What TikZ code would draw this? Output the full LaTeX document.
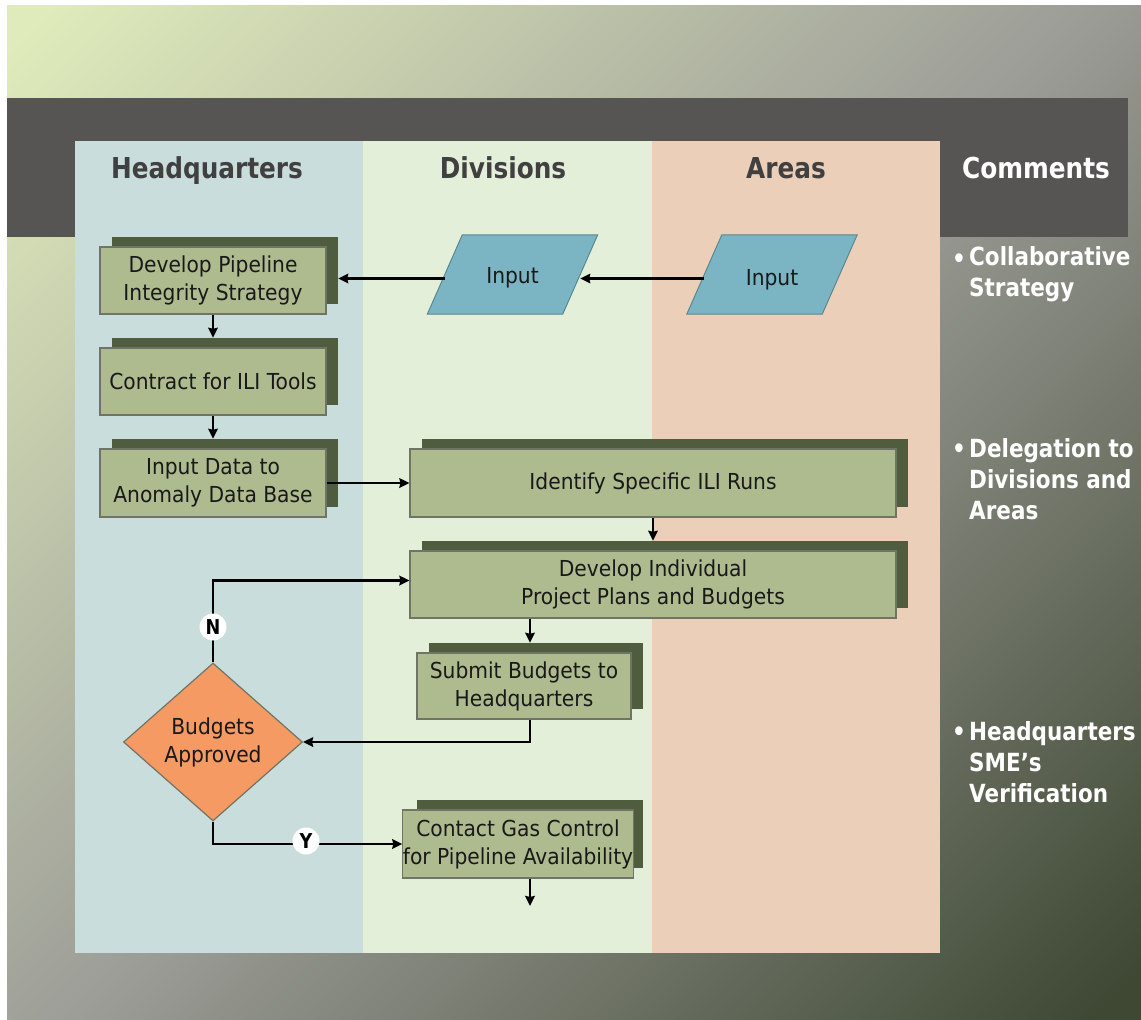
\documentclass[tikz,border=0pt]{standalone}
\usepackage{fontspec}
\setmainfont{DejaVu Sans}[FakeStretch=0.92]
\newfontfamily\narrowbf{DejaVu Sans Bold}[FakeStretch=0.86]
\usetikzlibrary{arrows.meta,shapes.geometric,calc}

\definecolor{bgA}{HTML}{DFEBBB}
\definecolor{bgM}{HTML}{9D9E98}
\definecolor{bgC}{HTML}{3E4833}
\definecolor{bandc}{HTML}{575553}
\definecolor{hqlane}{HTML}{C9DEDC}
\definecolor{divlane}{HTML}{E3EFD9}
\definecolor{arealane}{HTML}{EBCFB9}
\definecolor{boxfill}{HTML}{ADBB8F}
\definecolor{boxshadow}{HTML}{4F5C3D}
\definecolor{boxline}{HTML}{6F7465}
\definecolor{parafill}{HTML}{7BB5C3}
\definecolor{paraline}{HTML}{5A8890}
\definecolor{diafill}{HTML}{F59A62}
\definecolor{hdrc}{HTML}{404040}

\pgfdeclarehorizontalshading{bgshade}{100bp}{color(0bp)=(bgA); color(16bp)=(bgA); color(50bp)=(bgM); color(84bp)=(bgC); color(100bp)=(bgC)}

\newcommand{\procbox}[6]{%
  \node[shbox, minimum width=#4pt, minimum height=#5pt] (#1s) at (#2+12,#3-10) {};
  \node[proc, minimum width=#4pt, minimum height=#5pt] (#1) at (#2,#3) {#6};}

\begin{document}
\begin{tikzpicture}[x=1pt,y=-1pt,
  proc/.style={draw=boxline, line width=1.2pt, fill=boxfill, align=center,
    font=\fontsize{22}{28}\selectfont, text=black!90, inner sep=0pt},
  shbox/.style={fill=boxshadow, draw=none, inner sep=0pt},
  hdr/.style={font=\narrowbf\fontsize{28.8}{32}\selectfont, text=hdrc, anchor=base, inner sep=0pt},
  cmt/.style={font=\narrowbf\fontsize{25}{31}\selectfont, text=white, align=left, inner sep=0pt},
  paranode/.style={minimum width=135pt, minimum height=79pt, inner sep=0pt},
  ptext/.style={font=\fontsize{22}{28}\selectfont, text=black!90, inner sep=0pt},
  arr/.style={line width=2.4pt, -{Stealth[length=10pt,width=9.5pt,inset=1pt]}},
  ynlab/.style={circle, fill=white, draw=none, inner sep=0pt, minimum size=27pt,
    font=\narrowbf\fontsize{20.5}{20.5}\selectfont}]
\useasboundingbox (0,0) rectangle (1141,1020);
\fill[white] (0,0) rectangle (1141,1020);
\shade[shading=bgshade, shading angle=-45] (7,5) rectangle (1141,1020);
\fill[bandc] (7,98) rectangle (1128,237);

% lanes
\fill[hqlane] (75,141) rectangle (363,953);
\fill[divlane] (363,141) rectangle (652,953);
\fill[arealane] (652,141) rectangle (940,953);

% headers
\node[hdr] (hhq) at (207,178) {Headquarters};
\node[hdr] (hdiv) at (503,178) {Divisions};
\node[hdr] (hare) at (786,178) {Areas};
\node[hdr, text=white] (hcom) at (1036,178) {Comments};

% comments
\node[cmt, anchor=base] (c1b) at (959,267) {\textbullet};
\node[cmt, anchor=north west] (c1) at (969,246) {Collaborative\\Strategy};
\node[cmt, anchor=base] (c2b) at (959,457) {\textbullet};
\node[cmt, anchor=north west] (c2) at (969,438) {Delegation to\\Divisions and\\Areas};
\node[cmt, anchor=base] (c3b) at (959,740) {\textbullet};
\node[cmt, anchor=north west] (c3) at (969,721) {Headquarters\\SME’s\\Verification};

% process boxes
\procbox{b1}{213}{280.5}{226}{67}{Develop Pipeline\\Integrity Strategy}
\procbox{b2}{213}{381.5}{226}{67}{Contract for ILI Tools}
\procbox{b3}{213}{483}{226}{68}{Input Data to\\Anomaly Data Base}
\procbox{b4}{653}{483}{486}{68}{Identify Specific ILI Runs}
\procbox{b5}{653}{584.5}{486}{67}{Develop Individual\\Project Plans and Budgets}
\procbox{b6}{524}{686}{214}{66}{Submit Budgets to\\Headquarters}
\procbox{b7}{518}{844}{226}{68}{Contact Gas Control\\for Pipeline Availability}

% input parallelograms
\node[paranode] (din) at (512.5,274.5) {};
\filldraw[fill=parafill, draw=paraline, line width=1pt]
  ([xshift=-17.5pt]din.south west) -- ([xshift=-17.5pt]din.south east)
  -- ([xshift=17.5pt]din.north east) -- ([xshift=17.5pt]din.north west) -- cycle;
\node[ptext] (dintext) at ([yshift=-3pt]din.center) {Input};
\node[paranode] (ain) at (772,274.5) {};
\filldraw[fill=parafill, draw=paraline, line width=1pt]
  ([xshift=-17.5pt]ain.south west) -- ([xshift=-17.5pt]ain.south east)
  -- ([xshift=17.5pt]ain.north east) -- ([xshift=17.5pt]ain.north west) -- cycle;
\node[ptext] (aintext) at ([yshift=-5pt]ain.center) {Input};

% decision
\node[diamond, draw=boxline, line width=1.2pt, fill=diafill, minimum width=179pt,
  minimum height=158pt, inner sep=0pt, align=center,
  font=\fontsize{22}{28}\selectfont, text=black!90] (dia) at (213,742) {Budgets\\Approved};

\coordinate (endpt) at (530,906);

% connectors
\draw[arr] ([yshift=-4pt]ain.west) -- ([yshift=-4pt]din.east);
\draw[arr] ([yshift=-4pt]din.west) -- ([yshift=-4pt]din.west -| b1s.east);
\draw[arr] (b1.south) -- (b1.south |- b2s.north);
\draw[arr] (b2.south) -- (b2.south |- b3s.north);
\draw[arr] (b3.east) -- (b3.east -| b4.west);
\draw[arr] (b4.south) -- (b4.south |- b5s.north);
\draw[arr] ([xshift=6pt]b6.north |- b5.south) -- ([xshift=6pt]b6.north |- b6s.north);
\draw[arr] ([xshift=6pt]b6.south) |- (dia.east);
\draw[arr] (dia.north) |- ([yshift=4pt]b5.west);
\draw[arr] (dia.south) |- (b7.west);
\draw[arr] (b7.south -| endpt) -- (endpt);

\node[ynlab] (nlab) at (213,627) {N};
\node[ynlab] (ylab) at (306,841) {Y};
\end{tikzpicture}
\end{document}
